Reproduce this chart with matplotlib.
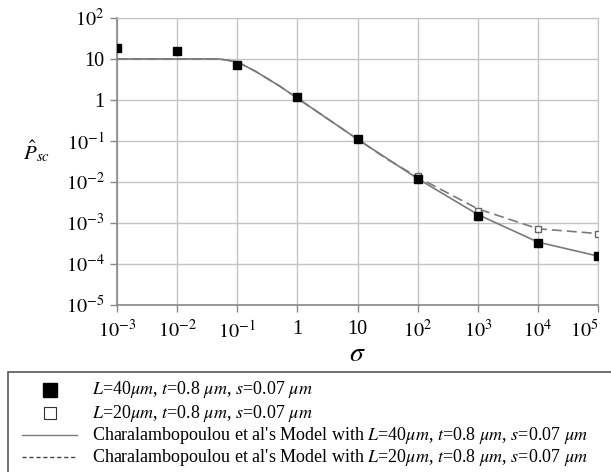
import matplotlib
matplotlib.use("Agg")
import matplotlib.pyplot as plt
from matplotlib.patches import Rectangle
from matplotlib.lines import Line2D

plt.rcParams['font.family'] = ['Liberation Serif', 'DejaVu Serif']
plt.rcParams['mathtext.fontset'] = 'stix'

# measured data
sigma_40 = [1e-3, 1e-2, 1e-1, 1, 10, 100, 1e3, 1e4, 1e5]
p_40 = [18, 16, 7.2, 1.15, 0.11, 0.0115, 0.0015, 3.2e-4, 1.55e-4]
sigma_20 = [100, 1e3, 1e4, 1e5]
p_20 = [0.014, 0.002, 7.2e-4, 5.5e-4]

# model curves
model_sigma_40 = [1e-3, 1e-2, 0.05, 0.1, 0.2, 0.5, 1, 10, 100, 1e3, 1e4, 1e5]
model_p_40 = [10, 10, 10, 8.5, 5.0, 2.2, 1.1, 0.11, 0.012, 0.0016, 3.4e-4, 1.55e-4]
model_sigma_20 = [1e-3, 1e-2, 0.05, 0.1, 0.2, 0.5, 1, 10, 30, 100, 1e3, 1e4, 1e5]
model_p_20 = [10, 10, 10, 8.5, 5.0, 2.2, 1.1, 0.11, 0.037, 0.013, 0.0022, 7.2e-4, 5.5e-4]

xticks = [1e-3, 1e-2, 1e-1, 1, 10, 1e2, 1e3, 1e4, 1e5]
xticklabels = [r'$10^{-3}$', r'$10^{-2}$', r'$10^{-1}$', '1', '10',
               r'$10^{2}$', r'$10^{3}$', r'$10^{4}$', r'$10^{5}$']
yticks = [1e-5, 1e-4, 1e-3, 1e-2, 1e-1, 1, 10, 1e2]
yticklabels = [r'$10^{-5}$', r'$10^{-4}$', r'$10^{-3}$', r'$10^{-2}$',
               r'$10^{-1}$', '1', '10', r'$10^{2}$']

legend_labels = [
    r'$L$=40$\mu m$, $t$=0.8 $\mu m$, $s$=0.07 $\mu m$',
    r'$L$=20$\mu m$, $t$=0.8 $\mu m$, $s$=0.07 $\mu m$',
    r"Charalambopoulou et al's Model with $L$=40$\mu m$, $t$=0.8 $\mu m$, $s$=0.07 $\mu m$",
    r"Charalambopoulou et al's Model with $L$=20$\mu m$, $t$=0.8 $\mu m$, $s$=0.07 $\mu m$",
]

line_col = '#7a7a7a'
grid_col = '#c4c4c4'

fig = plt.figure(figsize=(6.11, 4.72), dpi=100)
ax = fig.add_axes([0.1915, 0.354, 0.7875, 0.608])
ax.set_xscale('log')
ax.set_yscale('log')
ax.set_xlim(1e-3, 1e5)
ax.set_ylim(1e-5, 1e2)

ax.plot(model_sigma_20, model_p_20, color=line_col, lw=1.2, ls=(0, (6, 3)), zorder=3)
ax.plot(model_sigma_40, model_p_40, color=line_col, lw=1.2, ls='-', zorder=3)
ax.plot(sigma_20, p_20, ls='none', marker='s', ms=5, mfc='white', mec='#666666',
        mew=1.0, zorder=4)
ax.plot(sigma_40, p_40, ls='none', marker='s', ms=5.5, mfc='black', mec='black',
        zorder=5)

ax.set_xticks(xticks)
ax.set_xticklabels(xticklabels)
ax.set_yticks(yticks)
ax.set_yticklabels(yticklabels)
ax.minorticks_off()
ax.tick_params(axis='both', labelsize=14.5, color='#888888', length=5, width=1,
               direction='out')
ax.tick_params(axis='x', pad=6)
ax.tick_params(axis='y', pad=4)
ax.grid(True, color=grid_col, lw=1.0)
for side in ['top', 'right']:
    ax.spines[side].set_color(grid_col)
for side in ['left', 'bottom']:
    ax.spines[side].set_color('#888888')
    ax.spines[side].set_linewidth(1.2)
# keep the last x tick label inside the figure
ax.get_xticklabels()[-1].set_horizontalalignment('right')
ax.get_xticklabels()[-1].set_x(1e5)

ax.set_xlabel(r'$\sigma$', fontsize=20, labelpad=0)
fig.text(0.06, 0.68, r'$\hat{P}_{sc}$', fontsize=15, ha='center', va='center')

# legend box below the plot
fig.patches.append(Rectangle((8 / 611, -0.05), 1.0, 1 - 372 / 472 + 0.05,
                             transform=fig.transFigure, fill=False,
                             edgecolor='#555555', lw=1.2))
rows_y = [1 - 390 / 472, 1 - 413 / 472, 1 - 435 / 472, 1 - 457 / 472]
fig.add_artist(Line2D([50 / 611], [rows_y[0]], marker='s', ms=10, mfc='black',
                      mec='black', ls='none', transform=fig.transFigure))
fig.add_artist(Line2D([50 / 611], [rows_y[1]], marker='s', ms=9, mfc='white',
                      mec='#333333', mew=0.8, ls='none', transform=fig.transFigure))
fig.add_artist(Line2D([22 / 611, 77 / 611], [rows_y[2]] * 2, color=line_col, lw=1,
                      transform=fig.transFigure))
fig.add_artist(Line2D([22 / 611, 77 / 611], [rows_y[3]] * 2, color='#444444', lw=1,
                      ls=(0, (3, 2)), transform=fig.transFigure))
for y, lab in zip(rows_y, legend_labels):
    fig.text(92 / 611, y, lab, fontsize=13, ha='left', va='center')

fig.savefig('out.png', dpi=100)
